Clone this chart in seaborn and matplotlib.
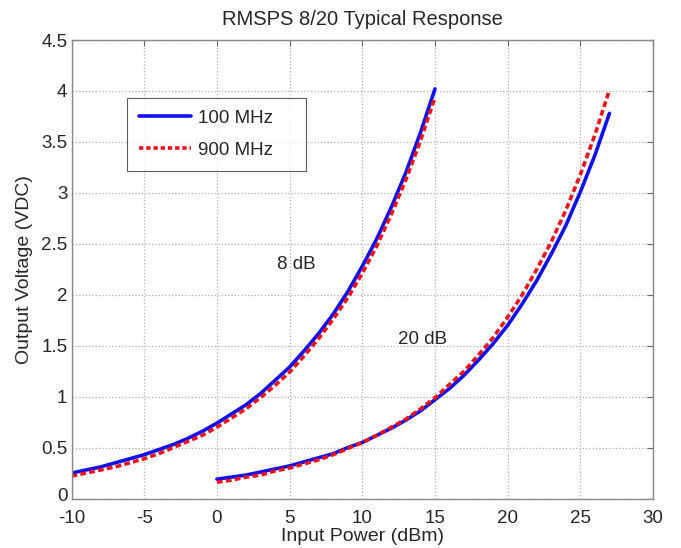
import numpy as np
import pandas as pd
import matplotlib
matplotlib.use("Agg")
import matplotlib.pyplot as plt
import matplotlib.transforms as mtransforms
from matplotlib.ticker import FuncFormatter
import seaborn as sns

# ---- data ----
p8 = list(range(-10, 16))
v8_100 = [0.25, 0.28, 0.31, 0.35, 0.39, 0.43, 0.48, 0.53, 0.59, 0.66,
          0.74, 0.83, 0.92, 1.03, 1.16, 1.29, 1.45, 1.62, 1.81, 2.03,
          2.28, 2.55, 2.86, 3.20, 3.59, 4.02]
v8_900 = [0.22, 0.25, 0.28, 0.31, 0.35, 0.39, 0.44, 0.50, 0.56, 0.62,
          0.70, 0.79, 0.88, 0.99, 1.11, 1.24, 1.40, 1.57, 1.76, 1.97,
          2.21, 2.48, 2.79, 3.13, 3.51, 3.94]
p20 = list(range(0, 28))
v20_100 = [0.19, 0.21, 0.23, 0.26, 0.29, 0.32, 0.36, 0.40, 0.44, 0.50,
           0.55, 0.62, 0.69, 0.77, 0.86, 0.97, 1.08, 1.21, 1.36, 1.52,
           1.70, 1.91, 2.14, 2.40, 2.68, 3.01, 3.37, 3.78]
v20_900 = [0.16, 0.18, 0.21, 0.23, 0.27, 0.30, 0.34, 0.38, 0.43, 0.49,
           0.55, 0.62, 0.70, 0.78, 0.88, 0.99, 1.12, 1.25, 1.41, 1.58,
           1.78, 2.00, 2.25, 2.52, 2.83, 3.18, 3.57, 4.01]
x_ticks = [-10, -5, 0, 5, 10, 15, 20, 25, 30]
y_ticks = [0, 0.5, 1, 1.5, 2, 2.5, 3, 3.5, 4, 4.5]
labels = ["100 MHz", "900 MHz"]
annotations = [("8 dB", 5.44, 2.30), ("20 dB", 14.17, 1.56)]

sns.set_style("white")
plt.rcParams['font.family'] = ['Liberation Sans', 'DejaVu Sans']
plt.rcParams['axes.unicode_minus'] = False

fig = plt.figure(figsize=(6.81, 5.48), dpi=100)
ax = fig.add_axes([0.105, 0.0903, 0.854, 0.8367])

blue = "#1010e8"
red = "#e8141c"
dash = [1.6, 0.9]

df8a = pd.DataFrame({"x": p8, "y": v8_100})
df8b = pd.DataFrame({"x": p8, "y": v8_900})
df20a = pd.DataFrame({"x": p20, "y": v20_100})
df20b = pd.DataFrame({"x": p20, "y": v20_900})

sns.lineplot(data=df8a, x="x", y="y", ax=ax, color=blue, lw=2.6, label=labels[0], sort=False)
sns.lineplot(data=df20a, x="x", y="y", ax=ax, color=blue, lw=2.6, sort=False)
sns.lineplot(data=df8b, x="x", y="y", ax=ax, color=red, lw=2.6, label=labels[1], sort=False)
sns.lineplot(data=df20b, x="x", y="y", ax=ax, color=red, lw=2.6, sort=False)
for line in ax.get_lines()[2:4]:
    line.set_dashes(dash)

ax.set_xlim(-10, 30)
ax.set_ylim(0, 4.5)
ax.set_xticks(x_ticks)
ax.set_yticks(y_ticks)
ax.xaxis.set_major_formatter(FuncFormatter(lambda v, p: f"{v:g}"))
ax.yaxis.set_major_formatter(FuncFormatter(lambda v, p: f"{v:g}"))
ax.tick_params(direction="in", length=4, width=0.8, color="#666666",
               labelsize=13.5, top=True, right=True)
ax.tick_params(axis="x", pad=8)
ax.tick_params(axis="y", pad=3)
ax.grid(True, linestyle=":", color="#b0b0b0", linewidth=0.9)
for s in ax.spines.values():
    s.set_color("#888888")
    s.set_linewidth(1.0)
    s.set_visible(True)

# nudge the "0" y tick label up slightly so it does not collide with "-10"
y0_label = ax.yaxis.get_major_ticks()[0].label1
y0_label.set_transform(y0_label.get_transform() +
                       mtransforms.ScaledTranslation(0, 3 / 72, fig.dpi_scale_trans))

ax.set_xlabel("Input Power (dBm)", fontsize=14, labelpad=1)
ax.set_ylabel("Output Voltage (VDC)", fontsize=14, labelpad=6)
ax.set_title("RMSPS 8/20 Typical Response", fontsize=14.5, pad=11)

for txt, x, y in annotations:
    ax.text(x, y, txt, fontsize=13.5, ha="center", va="center")

leg = ax.legend(loc="upper left", bbox_to_anchor=(0.0954, 0.7187, 0.3078, 0.1548),
                mode="expand", borderaxespad=0,
                fancybox=False, frameon=True, edgecolor="#333333", fontsize=13.5,
                handlelength=2.8, handletextpad=0.35, borderpad=0.62, labelspacing=0.8)
leg.get_frame().set_linewidth(0.8)
leg.get_lines()[1].set_dashes([1.2, 0.8])

fig.savefig("out.png", dpi=100)
